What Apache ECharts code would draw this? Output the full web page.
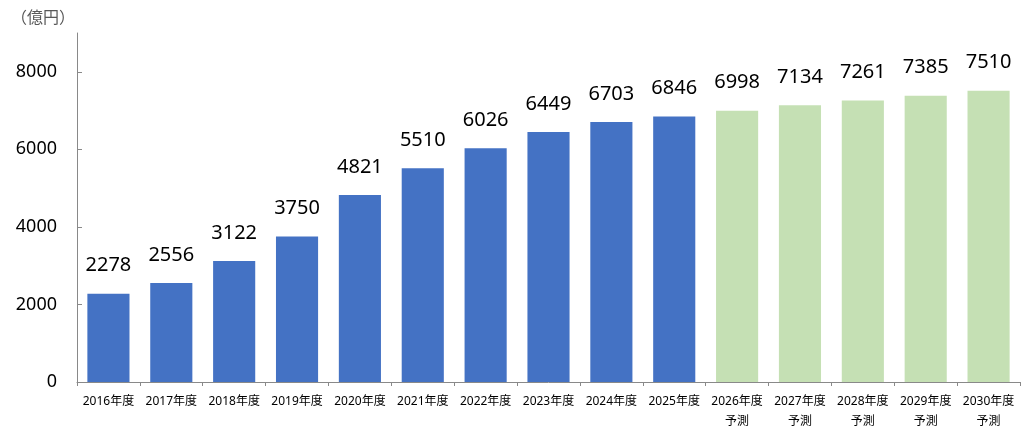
<!DOCTYPE html>
<html>
<head>
<meta charset="utf-8">
<style>
  html, body { margin: 0; padding: 0; background: #fff; }
  #chart { width: 1028px; height: 440px; }
</style>
</head>
<body>
<div id="chart"></div>
<script src="https://cdn.jsdelivr.net/npm/echarts@6/dist/echarts.min.js"></script>
<script>
const years = ['2016年度', '2017年度', '2018年度', '2019年度', '2020年度', '2021年度', '2022年度', '2023年度', '2024年度', '2025年度',
    '2026年度\n予測', '2027年度\n予測', '2028年度\n予測', '2029年度\n予測', '2030年度\n予測']
const values = [2278, 2556, 3122, 3750, 4821, 5510, 6026, 6449, 6703, 6846, 6998, 7134, 7261, 7385, 7510]
const forecastFrom = 10 // index of first forecast year
const yTicks = [0, 2000, 4000, 6000, 8000]

const font = '"Noto Sans", "Noto Sans CJK JP", sans-serif'
const axisGrey = '#898989'

let chart = echarts.init(document.getElementById('chart'))

let option = {
    animation: false,
    textStyle: { fontFamily: font },
    title: {
        text: '（億円）',
        left: 6,
        top: 5,
        textStyle: { fontSize: 16, fontWeight: 'normal', color: '#595959', fontFamily: font }
    },
    grid: { left: 77, right: 8, top: 33, bottom: 58 },
    xAxis: {
        type: 'category',
        data: years,
        axisLine: { lineStyle: { color: axisGrey, width: 1 } },
        axisTick: { show: true, length: 4, lineStyle: { color: axisGrey } },
        axisLabel: { color: '#000', fontSize: 12, lineHeight: 20, margin: 10, interval: 0 }
    },
    yAxis: {
        type: 'value',
        min: 0,
        max: 9000,
        interval: 2000,
        splitLine: { show: false },
        axisLine: { show: true, lineStyle: { color: axisGrey, width: 1 } },
        axisTick: { show: true, inside: true, length: 5, lineStyle: { color: axisGrey }, customValues: yTicks },
        axisLabel: { color: '#000', fontSize: 18, margin: 20, customValues: yTicks, formatter: (v) => String(v) }
    },
    series: [{
        type: 'bar',
        data: values,
        barCategoryGap: '33%',
        itemStyle: {
            color: (p) => p.dataIndex >= forecastFrom ? '#C5E0B4' : '#4472C4'
        },
        label: {
            show: true,
            position: 'top',
            distance: 18,
            fontSize: 20,
            color: '#000',
            fontFamily: font
        }
    }]
}

chart.setOption(option)
</script>
</body>
</html>
